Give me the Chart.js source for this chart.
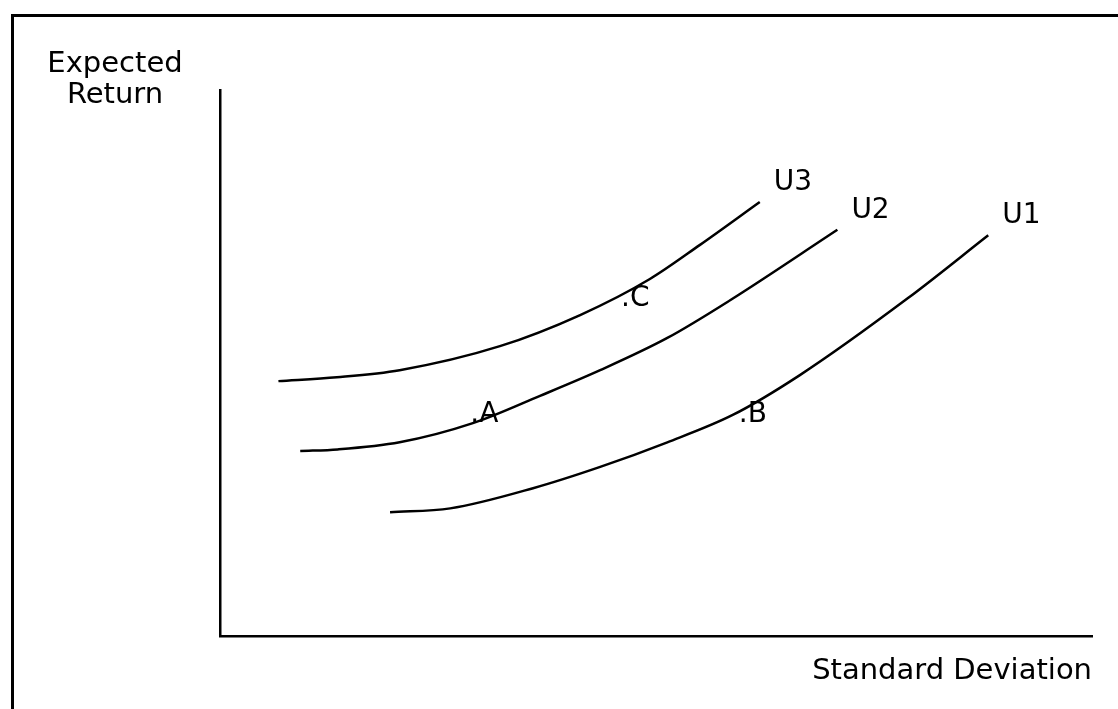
<!DOCTYPE html>
<html>
<head>
<meta charset="utf-8">
<script src="https://cdn.jsdelivr.net/npm/chart.js@4"></script>
<style>
  html, body { margin: 0; padding: 0; background: #fff; }
  #wrap { position: relative; width: 1118px; height: 709px; overflow: hidden; }
  /* frame of the scanned figure: only top and left edges show */
  #frame { position: absolute; left: 11px; top: 14px; right: -10px; bottom: -10px;
           border-top: 3px solid #000; border-left: 3px solid #000; pointer-events: none; }
  #chart { position: absolute; left: 0; top: 0; }
</style>
</head>
<body>
<div id="wrap">
  <canvas id="chart" width="1118" height="709"></canvas>
  <div id="frame"></div>
</div>
<script>
/* Curvas de indiferencia U1..U3 (riesgo vs. rentabilidad esperada).
 * Unidades arbitrarias 0..100 en ambos ejes. */
const u3X = [6.7, 13.4, 20.6, 32.1, 41.3, 49.3, 55.0, 61.9];
const u3Y = [46.7, 47.4, 48.7, 53.1, 58.8, 65.4, 71.6, 79.5];

const u2X = [9.2, 13.5, 20.6, 29.0, 36.7, 43.6, 51.3, 58.5, 70.8];
const u2Y = [33.9, 34.2, 35.5, 39.0, 44.0, 48.7, 54.6, 61.5, 74.4];

const u1X = [19.5, 26.4, 35.9, 43.6, 51.3, 58.8, 66.5, 78.9, 88.1];
const u1Y = [22.7, 23.4, 27.1, 31.0, 35.5, 40.5, 47.8, 61.9, 73.4];

const curveNames = ['U3', 'U2', 'U1'];

/* Carteras marcadas sobre las curvas */
const pointNames = ['A', 'B', 'C'];
const pointX = [28.7, 59.5, 46.0];
const pointY = [39.2, 39.2, 60.4];

const yTitle = ['Expected', 'Return'];
const xTitle = 'Standard Deviation';

const FONT = '"DejaVu Sans", sans-serif';
const toXY = (xs, ys) => xs.map((x, i) => ({ x, y: ys[i] }));

function curve(label, xs, ys) {
  return {
    label,
    data: toXY(xs, ys),
    showLine: true,
    borderColor: '#000',
    borderWidth: 2.5,
    pointRadius: 0,
    cubicInterpolationMode: 'monotone',
    fill: false,
  };
}

/* Etiquetas U1..U3 al final de cada curva, letras A/B/C y título del eje Y */
const annotations = {
  id: 'annotations',
  afterDatasetsDraw(chart) {
    const { ctx, scales: { x, y } } = chart;
    ctx.save();
    ctx.fillStyle = '#000';
    ctx.textBaseline = 'alphabetic';

    ctx.font = `28px ${FONT}`;
    ctx.textAlign = 'left';
    chart.data.datasets.forEach((ds, i) => {
      const pts = chart.getDatasetMeta(i).data;
      const last = pts[pts.length - 1];
      ctx.fillText(ds.label, last.x + 14, last.y - 12);
    });

    ctx.font = `28px ${FONT}`;
    pointNames.forEach((name, i) => {
      ctx.fillText('.' + name, x.getPixelForValue(pointX[i]), y.getPixelForValue(pointY[i]));
    });

    ctx.font = `29px ${FONT}`;
    ctx.textAlign = 'center';
    ctx.fillText(yTitle[0], 115, 72);
    ctx.fillText(yTitle[1], 115, 103);
    ctx.restore();
  },
};

new Chart(document.getElementById('chart'), {
  type: 'scatter',
  data: {
    datasets: [
      curve(curveNames[0], u3X, u3Y),
      curve(curveNames[1], u2X, u2Y),
      curve(curveNames[2], u1X, u1Y),
    ],
  },
  options: {
    responsive: false,
    animation: false,
    layout: { padding: { left: 220, top: 90, right: 26, bottom: 20 } },
    plugins: { legend: { display: false }, tooltip: { enabled: false } },
    scales: {
      x: {
        min: 0, max: 100,
        grid: { display: false, drawTicks: false },
        border: { display: true, color: '#000', width: 2.5 },
        ticks: { display: false },
        title: {
          display: true, text: xTitle, align: 'end', color: '#000',
          font: { family: FONT, size: 29 }, padding: { top: 18, bottom: 0 },
        },
      },
      y: {
        min: 0, max: 100,
        grid: { display: false, drawTicks: false },
        border: { display: true, color: '#000', width: 2.5 },
        ticks: { display: false },
      },
    },
  },
  plugins: [annotations],
});
</script>
</body>
</html>
